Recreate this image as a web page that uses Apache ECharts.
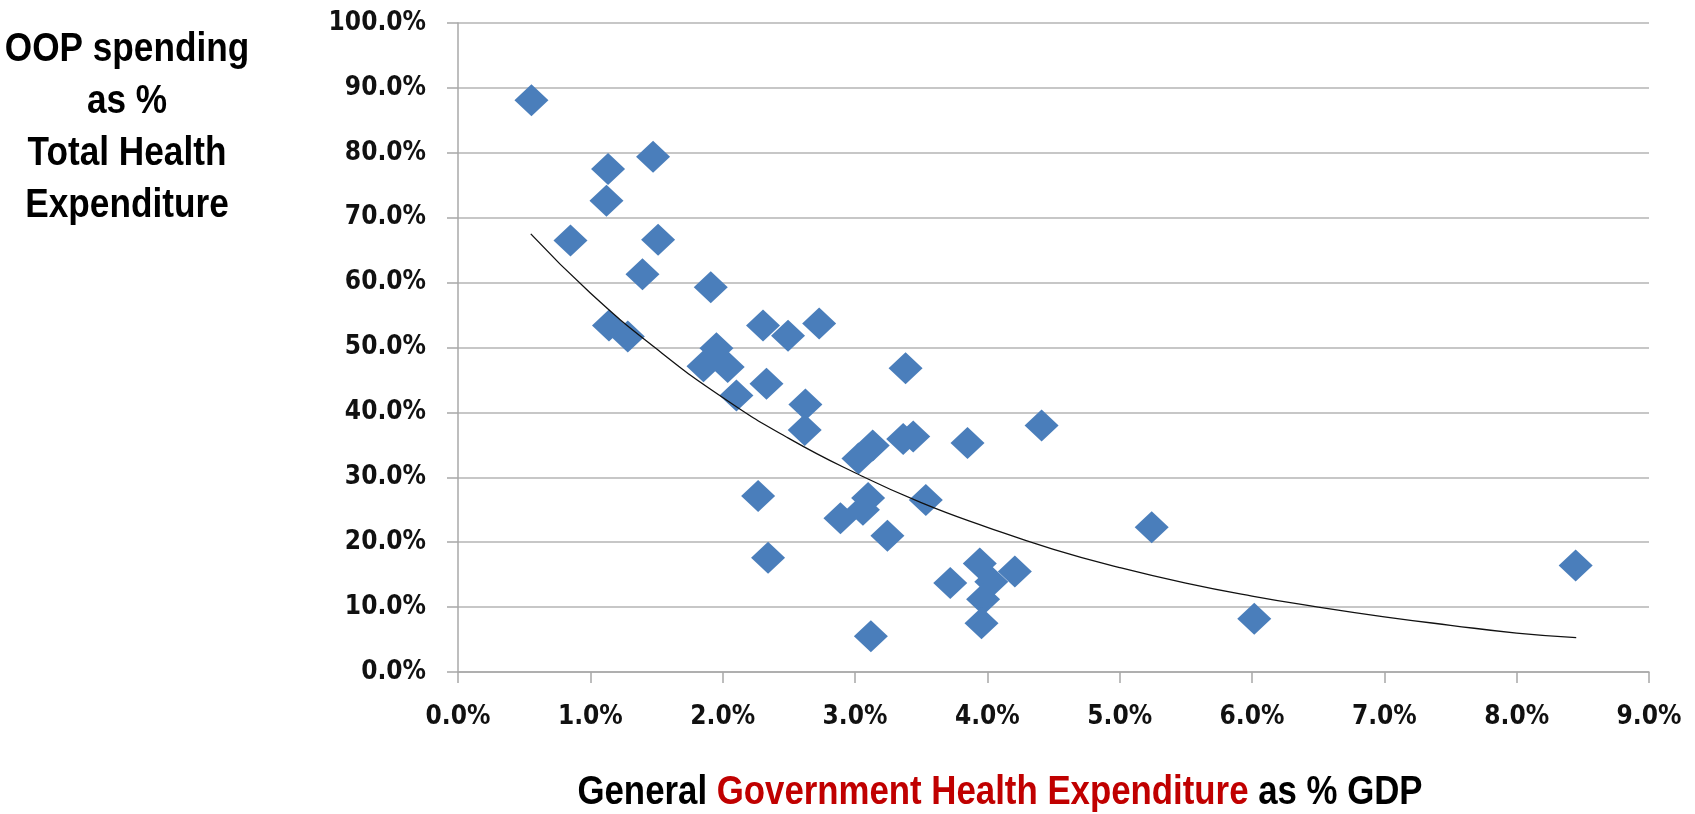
<!DOCTYPE html>
<html>
<head>
<meta charset="utf-8">
<script src="https://cdn.jsdelivr.net/npm/echarts@6/dist/echarts.min.js"></script>
<style>
html,body{margin:0;padding:0;background:#fff;}
#chart{width:1695px;height:814px;}
</style>
</head>
<body>
<div id="chart"></div>
<script>
// General government health expenditure as % GDP (x) and OOP spending as % of total health expenditure (y)
const gghePct = [0.555,1.134,1.474,1.122,0.85,1.512,1.394,1.91,1.141,1.283,2.305,2.494,2.729,1.953,1.855,2.038,2.104,2.331,2.625,2.62,3.382,3.134,3.026,3.364,3.44,3.85,4.41,2.268,3.099,2.89,3.06,3.535,3.245,2.343,3.72,3.943,4.208,4.03,3.968,3.956,3.12,5.242,6.017,8.446];
const oopPct  = [88.1,77.5,79.4,72.6,66.5,66.6,61.3,59.3,53.4,51.7,53.4,51.8,53.7,49.9,47.1,47.0,42.6,44.4,41.2,37.3,46.8,34.9,32.9,35.9,36.3,35.3,38.0,27.1,26.8,23.7,25.0,26.5,21.0,17.6,13.7,16.7,15.5,13.9,11.2,7.5,5.5,22.3,8.2,16.4];
// Trendline
const trendX = [0.55,1.0,1.5,2.0,2.5,3.0,3.5,4.0,4.5,5.0,5.5,6.0,6.5,7.0,7.5,8.0,8.45];
const trendY = [67.5,58.4,49.8,42.3,36.0,30.7,26.1,22.3,18.9,16.1,13.7,11.7,10.0,8.5,7.2,6.0,5.3];
// Axis ticks
const xTicks = [0,1,2,3,4,5,6,7,8,9];
const yTicks = [0,10,20,30,40,50,60,70,80,90,100];

const scatterData = gghePct.map((x, i) => [x, oopPct[i]]);
const trendData = trendX.map((x, i) => [x, trendY[i]]);

const chart = echarts.init(document.getElementById('chart'));
const axisGray = '#a8a8a8';
const labelFont = {
  color: '#111',
  fontFamily: '"DejaVu Sans Condensed", "DejaVu Sans", sans-serif',
  fontWeight: 'bold',
  fontSize: 26
};
const titleFont = '"Liberation Sans Narrow", "Arial Narrow", "Liberation Sans", sans-serif';
chart.setOption({
  animation: false,
  backgroundColor: '#fff',
  grid: { left: 458, right: 46, top: 23, bottom: 142, containLabel: false },
  xAxis: {
    type: 'value',
    min: xTicks[0], max: xTicks[xTicks.length - 1], interval: 1,
    axisLine: { show: true, lineStyle: { color: axisGray, width: 1.5 } },
    axisTick: { show: true, length: 11, lineStyle: { color: axisGray, width: 1.5 } },
    splitLine: { show: false },
    axisLabel: Object.assign({ margin: 32, formatter: v => v.toFixed(1) + '%' }, labelFont)
  },
  yAxis: {
    type: 'value',
    min: yTicks[0], max: yTicks[yTicks.length - 1], interval: 10,
    axisLine: { show: true, lineStyle: { color: axisGray, width: 1.5 } },
    axisTick: { show: true, length: 11, lineStyle: { color: axisGray, width: 1.5 } },
    splitLine: { show: true, lineStyle: { color: '#b4b4b4', width: 1.5 } },
    axisLabel: Object.assign({ margin: 32, formatter: v => v.toFixed(1) + '%' }, labelFont)
  },
  graphic: [
    {
      type: 'text',
      x: 127, y: 24,
      scaleX: 0.88,
      style: {
        text: 'OOP spending\nas %\nTotal Health\nExpenditure',
        textAlign: 'center', textVerticalAlign: 'top',
        fill: '#000',
        fontFamily: titleFont,
        fontWeight: 'bold', fontSize: 40, lineHeight: 52
      }
    },
    {
      type: 'text',
      x: 1000, y: 793,
      scaleX: 0.87,
      style: {
        text: '{a|General }{b|Government Health Expenditure}{a| as % GDP}',
        textAlign: 'center', textVerticalAlign: 'middle',
        rich: {
          a: { fill: '#000', color: '#000', fontFamily: titleFont, fontWeight: 'bold', fontSize: 40 },
          b: { fill: '#c00000', color: '#c00000', fontFamily: titleFont, fontWeight: 'bold', fontSize: 40 }
        }
      }
    }
  ],
  series: [
    {
      type: 'scatter',
      data: scatterData,
      symbol: 'diamond',
      symbolSize: [34, 32],
      itemStyle: { color: '#4a7ebb', opacity: 1 },
      z: 2
    },
    {
      type: 'line',
      data: trendData,
      smooth: true,
      showSymbol: false,
      lineStyle: { color: '#111', width: 1.3 },
      z: 3
    }
  ]
});
</script>
</body>
</html>
